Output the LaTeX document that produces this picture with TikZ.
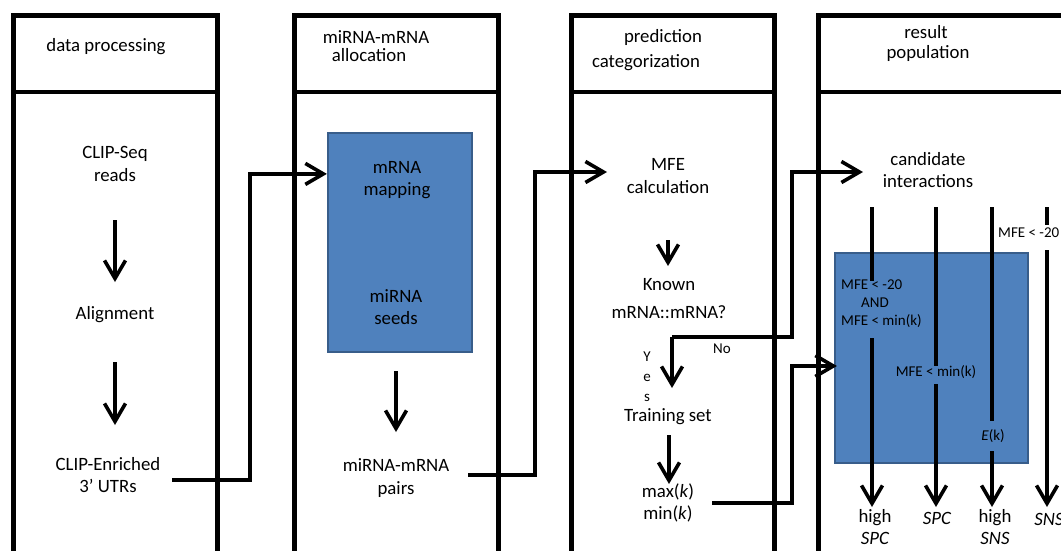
\documentclass[tikz,border=0pt]{standalone}
\usepackage{fontspec}
\setmainfont{Carlito}
\usetikzlibrary{arrows.meta,calc}
\definecolor{boxblue}{HTML}{4F81BD}
\definecolor{boxedge}{HTML}{385D8A}
\tikzset{
  lane/.style={line width=5pt},
  conn/.style={line width=3.4pt},
  flow/.style={conn,-{Straight Barb[length=18pt,width=21pt,line width=3.6pt]}},
  txt/.style={font=\fontsize{18.8}{22.5}\selectfont, align=center, inner sep=0pt},
  small/.style={font=\fontsize{15}{18}\selectfont, inner sep=0pt},
  stage/.style={fill=boxblue, draw=boxedge, line width=2.2pt, inner sep=0pt},
}
\begin{document}
\begin{tikzpicture}[x=1pt,y=-1pt]
\useasboundingbox (0,0) rectangle (1061,550);

% swimlanes with their header rows
\foreach \l/\r in {13/217, 294/498, 571/774, 818/1110}{
  \draw[lane] (\l,15) rectangle (\r,600);
  \draw[line width=4.5pt] (\l,92) -- (\r,92);
}

% headers
\node[txt] (h1)  at (106,47) {data processing};
\node[txt] (h2a) at (376,37) {miRNA-mRNA};
\node[txt] (h2b) at (369,55) {allocation};
\node[txt] (h3a) at (663,37) {prediction};
\node[txt] (h3b) at (646,63) {categorization};
\node[txt] (h4a) at (926,32) {result};
\node[txt] (h4b) at (928,53) {population};

% data processing
\node[txt] (clip) at (115,164) {CLIP-Seq\\reads};
\node[txt] (aln)  at (115,315) {Alignment};
\node[txt] (enr)  at (108,475) {CLIP-Enriched\\3’ UTRs};
\draw[flow] ($(clip)+(0,56)$) -- ($(aln)+(0,-33)$);
\draw[flow] ($(aln)+(0,47)$) -- ($(aln |- enr)+(0,-50)$);

% miRNA-mRNA allocation
\node[stage, minimum width=144pt, minimum height=219pt] (map) at (400,242.5) {};
\node[txt] (mapt) at (397,180) {mRNA\\mapping};
\node[txt] (seed) at (396,307) {miRNA\\seeds};
\node[txt] (pairs) at (396,478) {miRNA-mRNA\\pairs};
\draw[flow] ($(map.south)+(-4,18)$) -- ($(pairs)+(0,-46)$);
\draw[flow] ($(enr)+(64,5)$) -- ($(enr)+(142,5)$) |- ($(map.north west)+(0,42)$);

% prediction categorization
\node[txt] (mfe)   at (668,176) {MFE\\calculation};
\node[txt] (known) at (669,299) {Known\\[5.5pt]mRNA::mRNA?};
\node[txt] (train) at (668,417) {Training set};
\node[txt] (mm)    at (668,503) {max(\textit{k})\\min(\textit{k})};
\node[small, align=center, font=\fontsize{15}{20}\selectfont] (yes) at (647,377) {Y\\e\\s};
\node[small] (no) at (722,349) {No};
\draw[flow] ($(pairs)+(72,-3)$) -- ($(pairs)+(139,-3)$) |- ($(mfe)+(-61,-4)$);
\draw[flow] ($(mfe)+(0,64)$) -- ($(known)+(-1,-33)$);
\coordinate (fork) at ($(known)+(3,38)$);
\draw[flow] (fork) -- ($(train)+(4,-29)$);
\draw[flow] ($(train)+(1,18)$) -- ($(mm)+(1,-19)$);

% result population
\node[stage, minimum width=193pt, minimum height=210pt] (box4) at (931.5,358) {};
\node[txt] (cand) at (928,170) {candidate\\interactions};
\draw[flow] (fork) -- ($(fork)+(120,0)$) |- ($(cand)+(-65,2)$);
\draw[flow] ($(mm)+(44,0)$) -- ($(mm)+(124,0)$) |- ($(box4.west)+(3,8)$);

\node[small, align=left, anchor=west] (c1) at (841,304) {MFE < -20\\\hspace{20pt}AND\\MFE < min(k)};
\node[small] (c2) at (936,372) {MFE < min(k)};
\node[small] (c3) at (993,436) {\textit{E}(k)};
\node[small, anchor=west] (c4) at (998,233) {MFE < -20};

\node[txt] (o1) at (875,527) {high\\\textit{SPC}};
\node[txt] (o2) at (937,518) {\textit{SPC}};
\node[txt] (o3) at (995,527) {high\\\textit{SNS}};
\node[txt] (o4) at (1049,519) {\textit{SNS}};

\coordinate (t1) at (872,207);
\coordinate (t2) at (936,207);
\coordinate (t3) at (992,207);
\coordinate (t4) at (1047,207);
\draw[conn] (t1) -- ($(c1.west)+(31,-23)$);
\draw[flow] ($(c1.west)+(31,34)$) -- ($(o1)+(-3,-20)$);
\draw[conn] (t2) -- ($(c2)+(0,-6)$);
\draw[flow] ($(c2)+(0,12)$) -- ($(o2)+(-1,-11)$);
\draw[conn] (t3) -- ($(c3)+(-1,-15)$);
\draw[flow] ($(c3)+(-1,15)$) -- ($(o3)+(-3,-20)$);
\draw[conn] (t4) -- ($(c4.west)+(49,-8)$);
\draw[flow] ($(c4.west)+(49,17)$) -- ($(o4)+(-2,-12)$);
\end{tikzpicture}
\end{document}
